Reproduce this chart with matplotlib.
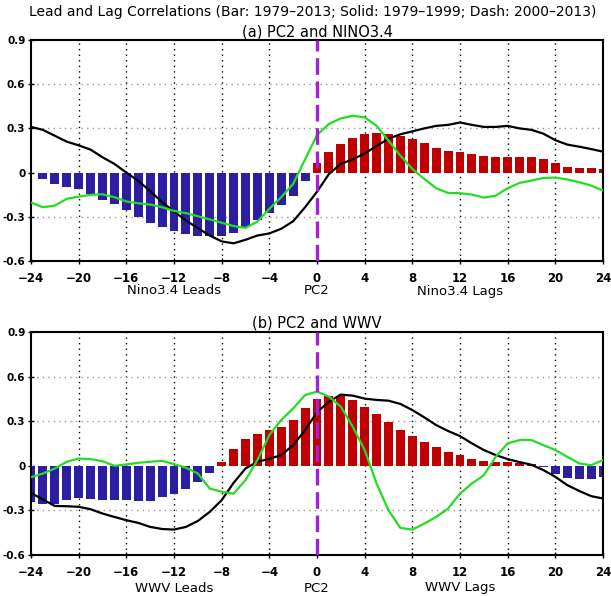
import numpy as np
import matplotlib
matplotlib.use("Agg")
import matplotlib.pyplot as plt

months = list(range(-24, 25))

# Panel (a): PC2 and NINO3.4
bar_a = [0.0, -0.043, -0.077, -0.095, -0.11, -0.145, -0.183, -0.212, -0.257, -0.30,
         -0.343, -0.372, -0.393, -0.415, -0.431, -0.433, -0.433, -0.41, -0.366, -0.32,
         -0.275, -0.223, -0.156, -0.056,
         0.063, 0.143, 0.197, 0.235, 0.26, 0.268, 0.264, 0.246, 0.226, 0.199,
         0.168, 0.146, 0.139, 0.125, 0.11, 0.105, 0.107, 0.107, 0.107, 0.09,
         0.067, 0.04, 0.031, 0.031, 0.027]
solid_a = [0.31, 0.29, 0.25, 0.21, 0.185, 0.156, 0.104, 0.059, 0.0, -0.056,
           -0.126, -0.2, -0.264, -0.325, -0.377, -0.427, -0.467, -0.48, -0.456, -0.427,
           -0.413, -0.381, -0.33, -0.235,
           -0.13, -0.01, 0.06, 0.09, 0.13, 0.18, 0.23, 0.26, 0.28, 0.30,
           0.317, 0.324, 0.34, 0.324, 0.31, 0.31, 0.317, 0.30, 0.29, 0.264,
           0.22, 0.19, 0.176, 0.16, 0.142]
dash_a = [-0.203, -0.235, -0.224, -0.178, -0.163, -0.151, -0.147, -0.167, -0.196, -0.208,
          -0.217, -0.235, -0.26, -0.275, -0.296, -0.318, -0.34, -0.363, -0.375, -0.332,
          -0.246, -0.167, -0.077, 0.09,
          0.255, 0.33, 0.368, 0.386, 0.375, 0.318, 0.217, 0.115, 0.025, -0.043,
          -0.106, -0.138, -0.14, -0.149, -0.17, -0.156, -0.106, -0.07, -0.054, -0.036,
          -0.034, -0.047, -0.065, -0.088, -0.122]

# Panel (b): PC2 and WWV
bar_b = [-0.243, -0.258, -0.254, -0.227, -0.216, -0.22, -0.231, -0.231, -0.231, -0.24,
         -0.234, -0.213, -0.193, -0.155, -0.108, -0.049, 0.025, 0.11, 0.178, 0.213,
         0.24, 0.258, 0.308, 0.386,
         0.447, 0.472, 0.472, 0.445, 0.398, 0.346, 0.292, 0.243, 0.202, 0.162,
         0.126, 0.09, 0.072, 0.049, 0.029, 0.025, 0.025, 0.016, 0.011, -0.007,
         -0.056, -0.079, -0.092, -0.092, -0.074]
solid_b = [-0.182, -0.227, -0.27, -0.272, -0.276, -0.292, -0.321, -0.344, -0.366, -0.384,
           -0.411, -0.425, -0.429, -0.411, -0.371, -0.31, -0.231, -0.115, -0.018, 0.027,
           0.047, 0.072, 0.139, 0.24,
           0.36, 0.431, 0.479, 0.472, 0.452, 0.443, 0.438, 0.416, 0.375, 0.326,
           0.274, 0.234, 0.2, 0.151, 0.106, 0.072, 0.045, 0.025, 0.007, -0.029,
           -0.074, -0.13, -0.169, -0.204, -0.22]
dash_b = [-0.076, -0.052, -0.018, 0.027, 0.049, 0.045, 0.031, 0.0, 0.009, 0.02,
          0.027, 0.034, 0.011, -0.013, -0.052, -0.153, -0.175, -0.187, -0.097, 0.038,
          0.207, 0.308, 0.386, 0.476,
          0.499, 0.465, 0.398, 0.263, 0.106, -0.119, -0.299, -0.418, -0.429, -0.389,
          -0.344, -0.288, -0.187, -0.119, -0.063, 0.061, 0.151, 0.173, 0.173, 0.139,
          0.106, 0.061, 0.016, 0.004, 0.038]

xticks = list(range(-24, 25, 4))
xtick_labels = [str(t).replace("-", "\u2212") for t in xticks]
yticks = [-0.6, -0.3, 0, 0.3, 0.6, 0.9]
ytick_labels = ["-0.6", "-0.3", "0", "0.3", "0.6", "0.9"]

suptitle = "Lead and Lag Correlations (Bar: 1979\u20132013; Solid: 1979\u20131999; Dash: 2000\u20132013)"
titles = ["(a) PC2 and NINO3.4", "(b) PC2 and WWV"]
under_labels = [["Nino3.4 Leads", "PC2", "Nino3.4 Lags"], ["WWV Leads", "PC2", "WWV Lags"]]
under_x = [-12, 0, 12]

RED = "#c00000"
BLUE = "#2c1ea0"
GREEN = "#22dd22"
MAGENTA = "#a41fd8"

W, H = 611, 596
fig = plt.figure(figsize=(W / 100, H / 100), dpi=100)

def frac_box(l, t, r, b):
    return [l / W, 1 - b / H, (r - l) / W, (b - t) / H]

axes_boxes = [frac_box(31, 40, 603, 261), frac_box(31, 332, 603, 555)]
title_y = [32, 323]
label_y = [291, 588]

for i, (bars, solid, dash) in enumerate([(bar_a, solid_a, dash_a), (bar_b, solid_b, dash_b)]):
    ax = fig.add_axes(axes_boxes[i])
    ax.set_xlim(-24, 24)
    ax.set_ylim(-0.6, 0.9)
    colors = [RED if v >= 0 else BLUE for v in bars]
    ax.bar(months, bars, width=0.75, color=colors, edgecolor="none", zorder=2)
    # grid
    for xv in xticks:
        if xv not in (-24, 0, 24):
            ax.axvline(xv, color="black", lw=1.0, ls=(0, (1, 3)), zorder=1)
    for yv in [0.6, 0.3, -0.3]:
        ax.axhline(yv, color="#999999", lw=1.0, ls=(0, (1, 3)), zorder=1)
    ax.plot(months, solid, color="black", lw=1.6, zorder=4)
    ax.plot(months, dash, color=GREEN, lw=1.6, zorder=4)
    ax.axvline(0, color=MAGENTA, lw=2.4, ls=(0, (5, 2)), zorder=5)

    ax.set_xticks(xticks)
    ax.set_xticklabels(xtick_labels, fontsize=8.5, fontweight="bold")
    ax.set_yticks(yticks)
    ax.set_yticklabels(ytick_labels, fontsize=7.5, fontweight="bold")
    ax.tick_params(direction="inout", length=4, width=1)
    ax.tick_params(axis="x", pad=6)
    ax.tick_params(axis="y", pad=2)
    for s in ["left", "right"]:
        ax.spines[s].set_linewidth(1.5)
    for s in ["top", "bottom"]:
        ax.spines[s].set_linewidth(1.5)
        ax.spines[s].set_linestyle((0, (3, 1)))

    fig.text(317 / W, 1 - title_y[i] / H, titles[i], ha="center", va="center", fontsize=10.5)
    for lx, lab in zip(under_x, under_labels[i]):
        xp = 31 + (lx + 24) / 48 * (603 - 31)
        fig.text(xp / W, 1 - label_y[i] / H, lab, ha="center", va="center", fontsize=9.5)

fig.text(313 / W, 1 - 12 / H, suptitle, ha="center", va="center", fontsize=10)

fig.savefig("out.png", dpi=100)
